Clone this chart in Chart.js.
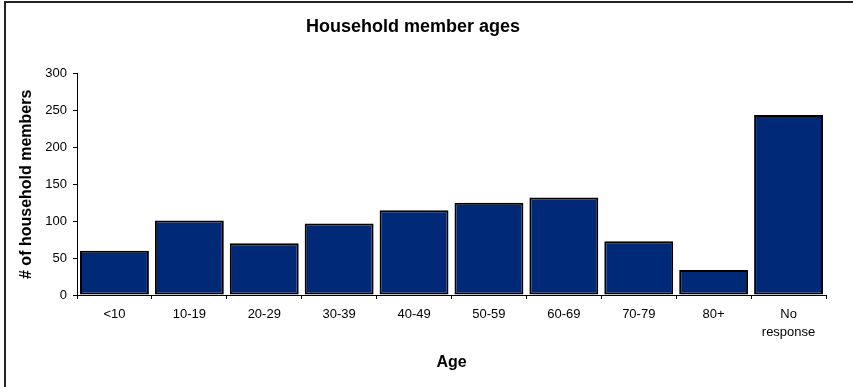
<!DOCTYPE html>
<html>
<head>
<meta charset="utf-8">
<script src="https://cdn.jsdelivr.net/npm/chart.js@4"></script>
<style>
    body { margin: 0; background: #fff; }
    #wrap { position: relative; width: 853px; height: 387px; }
    #frame {
        position: absolute; left: 4px; top: 1px; right: 0; bottom: 0;
        border-left: 2px solid #222; border-top: 2px solid #222;
        pointer-events: none;
    }
</style>
</head>
<body>
<div id="wrap">
    <canvas id="agesChart" width="853" height="387"></canvas>
    <div id="frame"></div>
</div>
<script>
// chart data
const ageGroups = ['<10', '10-19', '20-29', '30-39', '40-49', '50-59', '60-69', '70-79', '80+', ['No', 'response']];
const memberCounts = [60, 101, 70, 97, 115, 125, 132, 73, 34, 244];
const yTicks = [0, 50, 100, 150, 200, 250, 300];

document.addEventListener("DOMContentLoaded", function () {
    const ctx = document.getElementById('agesChart').getContext('2d');
    const fontFamily = 'Arial, "Liberation Sans", sans-serif';

    let agesChart = new Chart(ctx, {
        type: 'bar',
        data: {
            labels: ageGroups,
            datasets: [{
                label: '# of household members',
                data: memberCounts,
                backgroundColor: '#002a78',
                borderColor: '#000',
                borderWidth: 2,
                borderSkipped: false,
                inflateAmount: 0,
                barPercentage: 0.92,
                categoryPercentage: 1
            }]
        },
        options: {
            responsive: false,
            animation: false,
            layout: { padding: { left: 0, right: 27, top: 0, bottom: 0 } },
            plugins: {
                legend: { display: false },
                tooltip: { enabled: false },
                title: {
                    display: true,
                    text: 'Household member ages',
                    color: '#000',
                    font: { family: fontFamily, size: 18, weight: 'bold' },
                    padding: { top: 16, bottom: 36 }
                }
            },
            scales: {
                x: {
                    grid: { drawOnChartArea: false, color: '#000', tickLength: 4, offset: true },
                    border: { color: '#000', width: 1 },
                    ticks: {
                        color: '#000',
                        padding: 6,
                        maxRotation: 0,
                        autoSkip: false,
                        font: { family: fontFamily, size: 13, lineHeight: 1.4 }
                    },
                    title: {
                        display: true,
                        text: 'Age',
                        color: '#000',
                        font: { family: fontFamily, size: 16, weight: 'bold' },
                        padding: { top: 0, bottom: 15 }
                    },
                    afterFit: function (scale) { scale.height = 92; }
                },
                y: {
                    min: 0,
                    max: 300,
                    afterBuildTicks: function (scale) {
                        scale.ticks = yTicks.map(v => ({ value: v }));
                    },
                    grid: { drawOnChartArea: false, color: '#000', tickLength: 4 },
                    border: { color: '#000', width: 1 },
                    ticks: {
                        color: '#000',
                        padding: 6,
                        font: { family: fontFamily, size: 13 }
                    },
                    title: {
                        display: true,
                        text: '# of household members',
                        color: '#000',
                        font: { family: fontFamily, size: 16, weight: 'bold' },
                        padding: { top: 17, bottom: 0 }
                    },
                    afterFit: function (scale) { scale.width = 77; }
                }
            }
        }
    });
});
</script>
</body>
</html>
